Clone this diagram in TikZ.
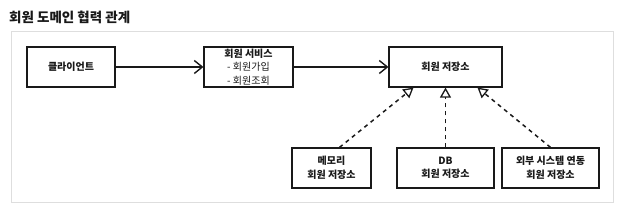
\documentclass[tikz,border=0pt]{standalone}
\usepackage{fontspec}
\setmainfont{Noto Sans CJK KR}
\usetikzlibrary{arrows.meta}
\definecolor{panelgray}{RGB}{222,222,222}
\definecolor{ink}{RGB}{25,25,25}

\begin{document}
\begin{tikzpicture}[x=1pt, y=1pt,
  box/.style={draw=ink, line width=1.2pt, minimum height=40pt, inner sep=0pt,
    align=center, text=ink, font=\fontsize{10}{13.5}\selectfont\bfseries},
  uses/.style={-{Straight Barb[length=8pt,width=13pt,line width=1.4pt]}, line width=1.5pt, ink},
  impl/.style={-{Triangle[open,length=10pt,width=11pt,line width=1.3pt]}, line width=1.5pt, ink,
    dash pattern=on 4pt off 4pt}]
  \useasboundingbox (0,0) rectangle (636,221);
  \fill[white] (0,0) rectangle (636,221);

  % Title and panel
  \node[anchor=west, inner sep=0pt, text=ink, font=\fontsize{13.5}{15}\selectfont\bfseries] (title) at (9,204) {회원 도메인 협력 관계};
  \draw[panelgray, line width=1pt] (11,18) rectangle (613,189);

  % Top row
  \node[box, minimum width=88pt] (client) at (71,154) {클라이언트};
  \node[box, minimum width=89pt] (service) at (248.5,154) {회원 서비스\\{\mdseries - 회원가입}\\{\mdseries - 회원조회}};
  \node[box, minimum width=113pt] (repo) at (445.5,154) {회원 저장소};

  % Bottom row
  \node[box, minimum width=79pt] (memory) at (331.5,53) {메모리\\회원 저장소};
  \node[box, minimum width=97pt] (db) at (445.5,53) {DB\\회원 저장소};
  \node[box, minimum width=97pt] (external) at (550.5,53) {외부 시스템 연동\\회원 저장소};

  % Connectors
  \draw[uses] (client.east) -- (service.west);
  \draw[uses] (service.east) -- (repo.west);
  \draw[impl] ([xshift=8pt]memory.north) -- ([xshift=-32pt]repo.south);
  \draw[impl] (db.north) -- (repo.south);
  \draw[impl] (external.north) -- ([xshift=32pt]repo.south);
\end{tikzpicture}
\end{document}
